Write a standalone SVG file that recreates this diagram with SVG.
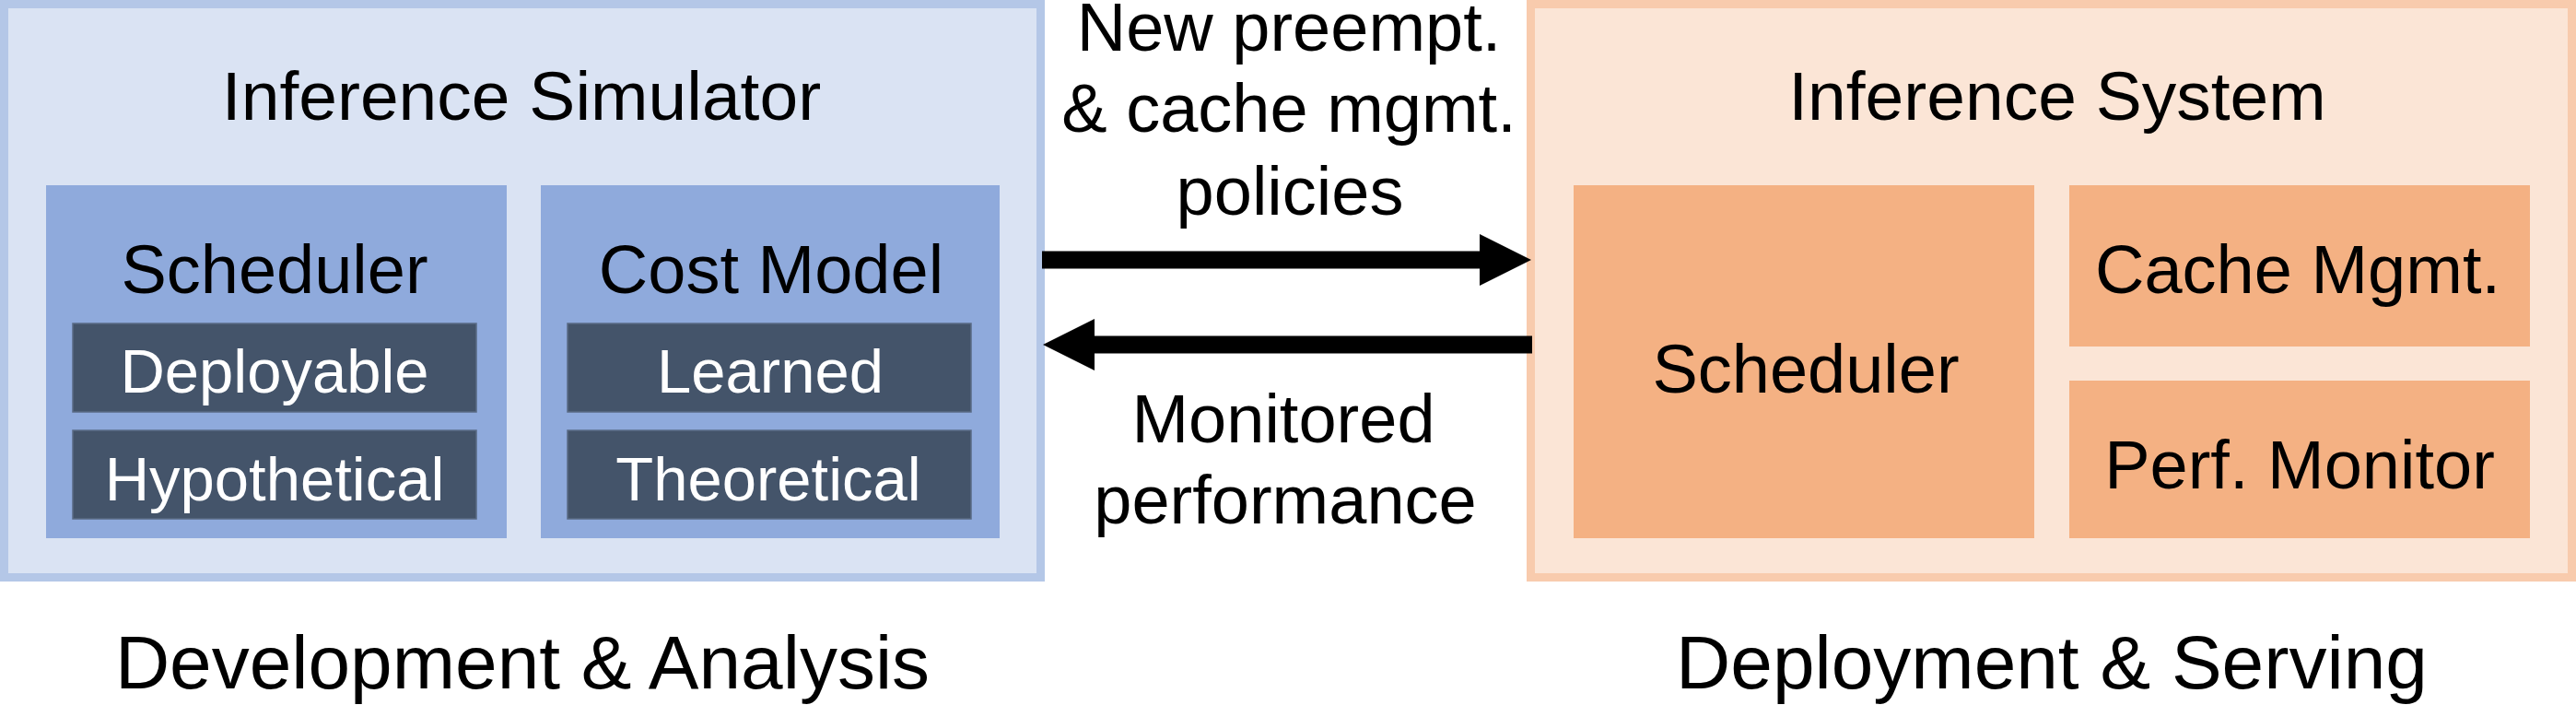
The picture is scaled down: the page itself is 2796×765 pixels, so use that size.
<svg xmlns="http://www.w3.org/2000/svg" width="2796" height="765" viewBox="0 0 2796 765">
  <style>
    text { font-family: "Liberation Sans", Arial, sans-serif; fill: #000; text-anchor: middle; }
    .title { font-size: 75px; }
    .box { font-size: 74px; }
    .sub { font-size: 67px; fill: #ffffff; }
    .edge { font-size: 74px; }
    .foot { font-size: 82px; }
    .simOuter { fill: #dae3f3; stroke: #b4c7e7; stroke-width: 9; }
    .simInner { fill: #8faadc; }
    .dark { fill: #44546a; stroke: #5a6b85; stroke-width: 1.5; }
    .sysOuter { fill: #fbe5d6; stroke: #f8cbad; stroke-width: 9; }
    .sysInner { fill: #f4b183; }
    .conn { stroke: #000; stroke-width: 19; fill: none; marker-end: url(#head); }
  </style>
  <defs>
    <marker id="head" markerUnits="userSpaceOnUse" viewBox="0 0 56 56" markerWidth="56" markerHeight="56" refX="6" refY="28" orient="auto">
      <path d="M0,0 L56,28 L0,56 Z" fill="#000"/>
    </marker>
  </defs>

  <g id="inference-simulator">
    <rect class="simOuter" x="4.5" y="4.5" width="1125" height="622"/>
    <text class="title" x="566" y="130">Inference Simulator</text>
  </g>
  <g id="sim-scheduler">
    <rect class="simInner" x="50" y="201" width="500" height="383"/>
    <text class="box" x="298" y="318">Scheduler</text>
  </g>
  <g id="sim-deployable">
    <rect class="dark" x="79" y="351" width="438" height="96"/>
    <text class="sub" x="298" y="426">Deployable</text>
  </g>
  <g id="sim-hypothetical">
    <rect class="dark" x="79" y="467" width="438" height="96"/>
    <text class="sub" x="298" y="543">Hypothetical</text>
  </g>
  <g id="sim-cost-model">
    <rect class="simInner" x="587" y="201" width="498" height="383"/>
    <text class="box" x="837" y="318">Cost Model</text>
  </g>
  <g id="sim-learned">
    <rect class="dark" x="616" y="351" width="438" height="96"/>
    <text class="sub" x="836" y="426">Learned</text>
  </g>
  <g id="sim-theoretical">
    <rect class="dark" x="616" y="467" width="438" height="96"/>
    <text class="sub" x="834" y="543">Theoretical</text>
  </g>

  <g id="inference-system">
    <rect class="sysOuter" x="1661.5" y="4.5" width="1130" height="622"/>
    <text class="title" x="2233" y="130">Inference System</text>
  </g>
  <g id="sys-scheduler">
    <rect class="sysInner" x="1708" y="201" width="500" height="383"/>
    <text class="box" x="1960" y="426">Scheduler</text>
  </g>
  <g id="sys-cache-mgmt">
    <rect class="sysInner" x="2246" y="201" width="500" height="175"/>
    <text class="box" x="2494" y="318">Cache Mgmt.</text>
  </g>
  <g id="sys-perf-monitor">
    <rect class="sysInner" x="2246" y="413" width="500" height="171"/>
    <text class="box" x="2496" y="530">Perf. Monitor</text>
  </g>

  <g id="connectors">
    <g id="policies-edge">
      <path class="conn" d="M1131,282 L1612,282"/>
      <text class="edge" x="1399" y="55">New preempt.</text>
      <text class="edge" x="1399" y="143">&amp; cache mgmt.</text>
      <text class="edge" x="1400" y="233">policies</text>
    </g>
    <g id="monitor-edge">
      <path class="conn" d="M1663,374 L1182,374"/>
      <text class="edge" x="1393" y="480">Monitored</text>
      <text class="edge" x="1395" y="568">performance</text>
    </g>
  </g>

  <g id="labels">
    <text class="foot" x="567" y="747">Development &amp; Analysis</text>
    <text class="foot" x="2227" y="747">Deployment &amp; Serving</text>
  </g>
</svg>
